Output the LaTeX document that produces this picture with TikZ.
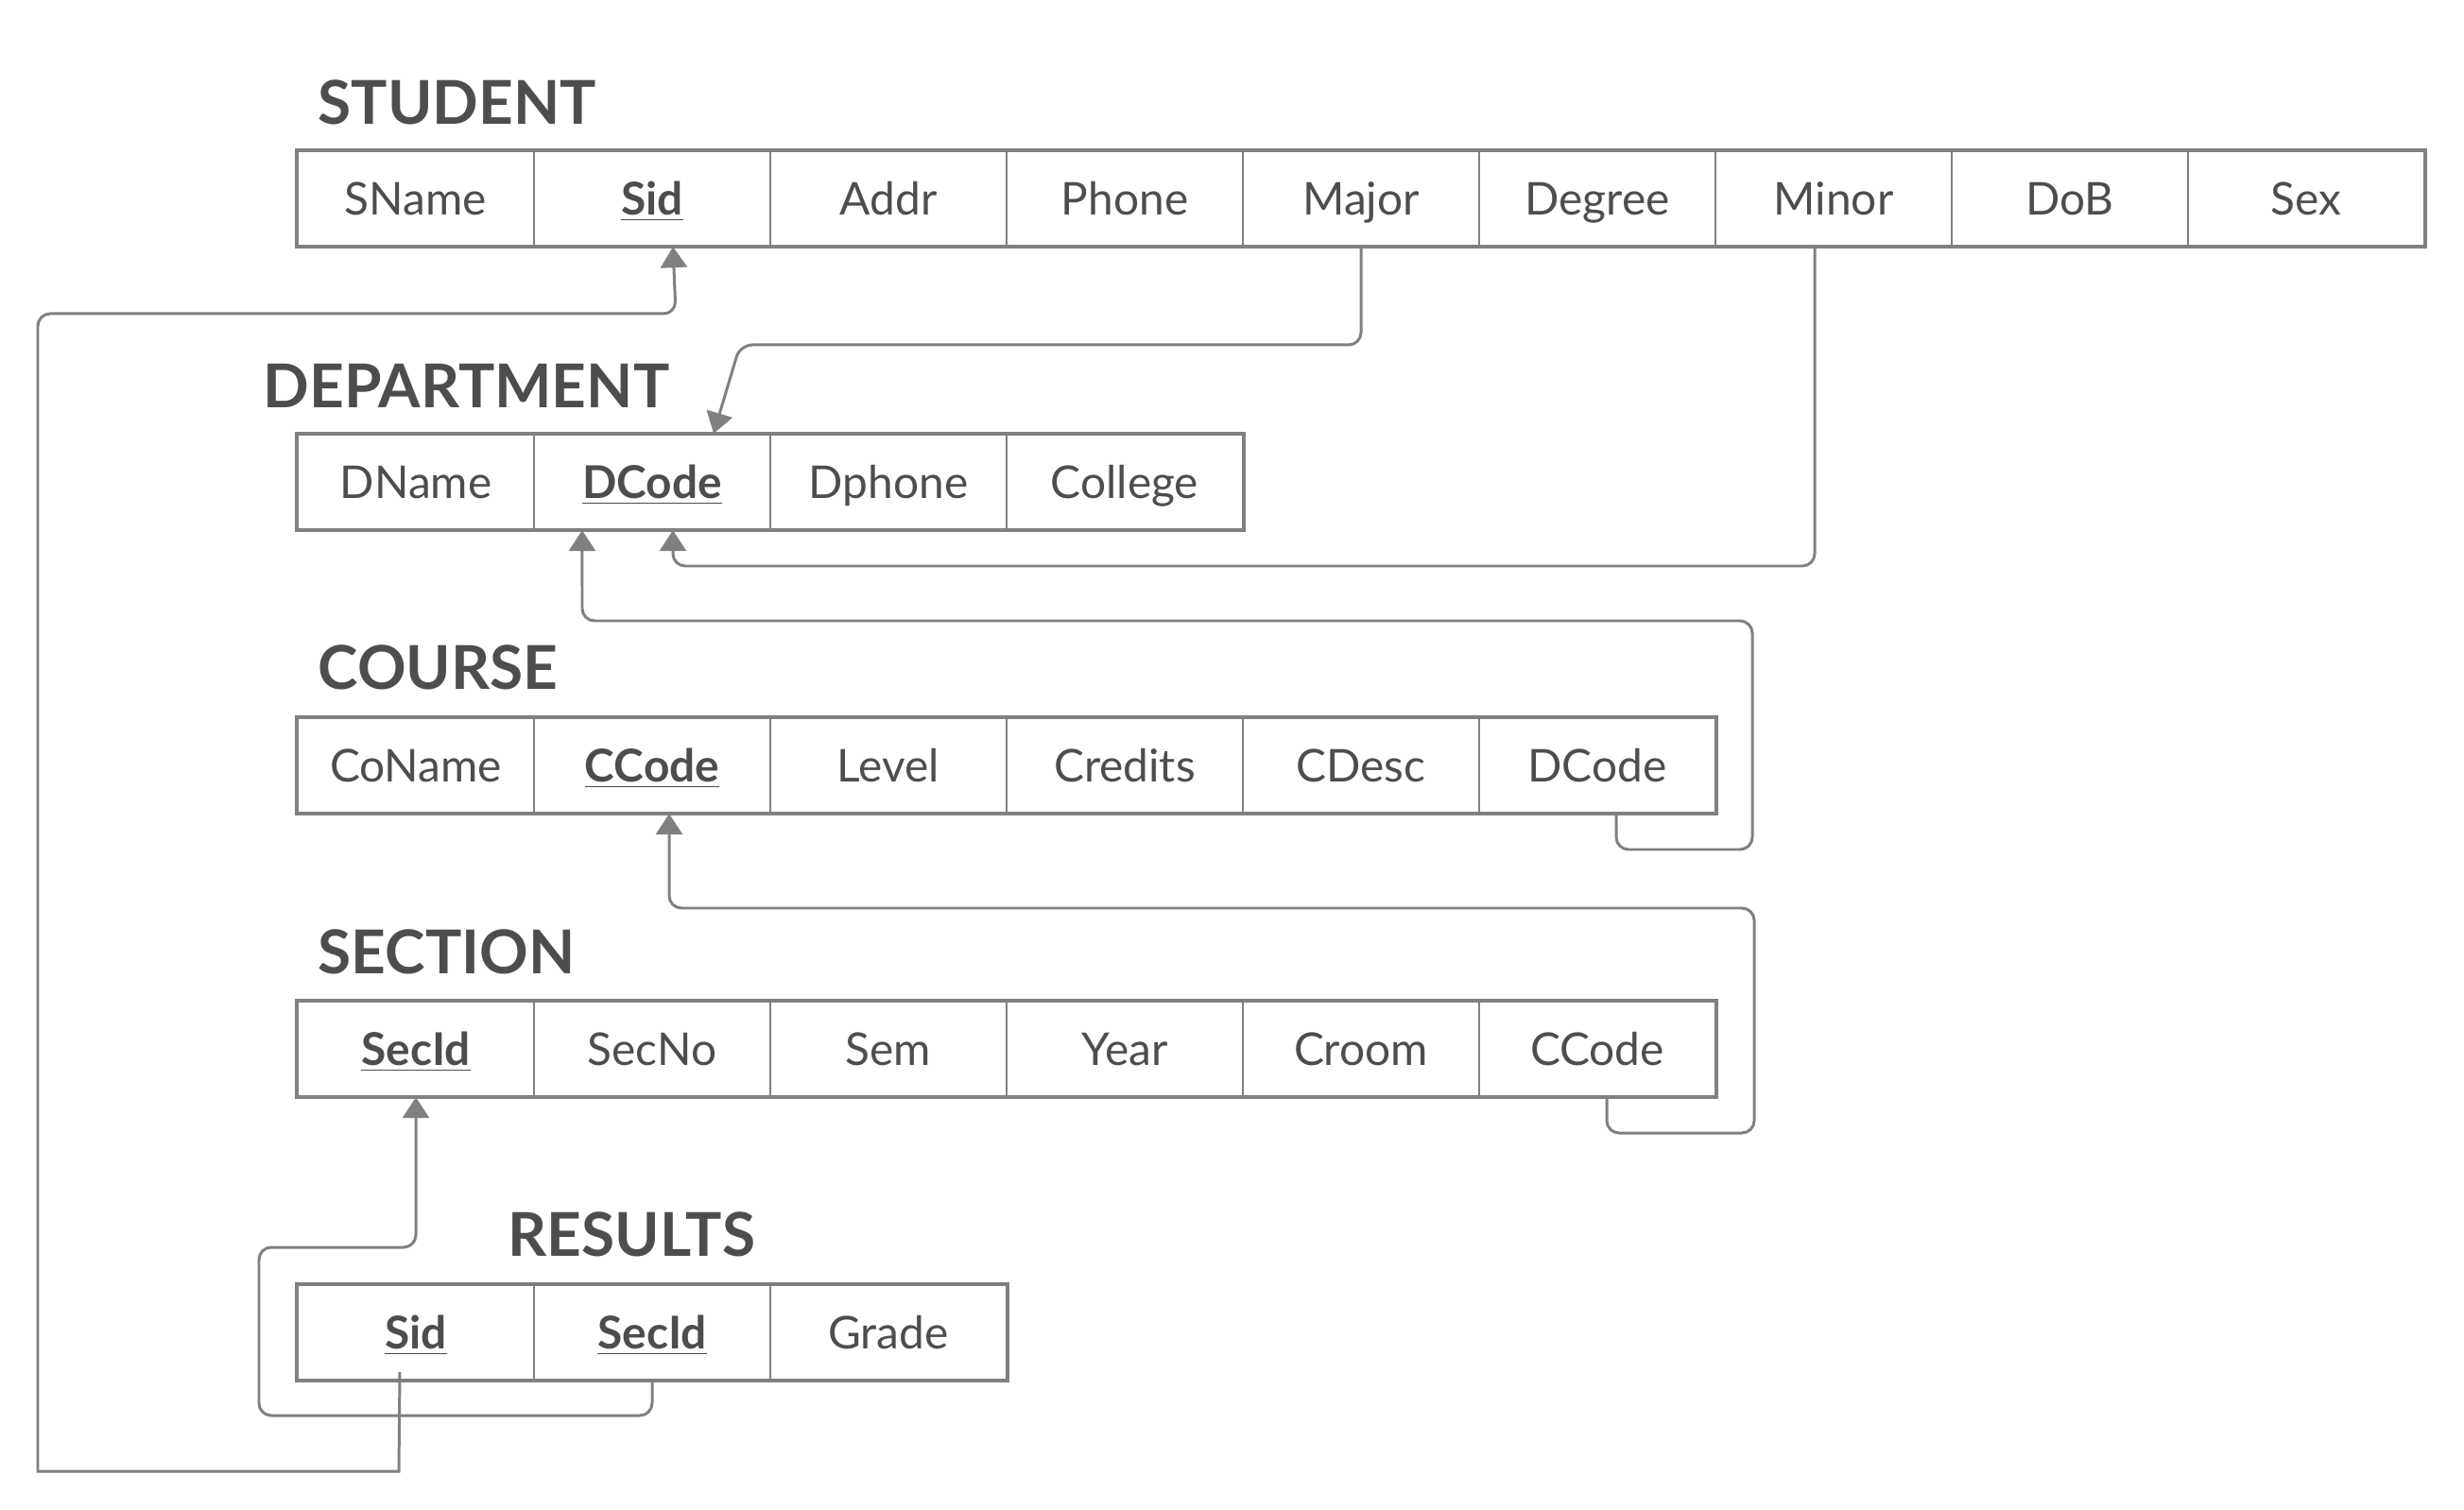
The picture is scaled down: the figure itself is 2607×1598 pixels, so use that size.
\documentclass[tikz,border=0pt]{standalone}
\usepackage{fontspec}
\setmainfont{Lato}
\usetikzlibrary{arrows.meta}

\definecolor{ink}{HTML}{4D4D4D}
\definecolor{wire}{HTML}{808080}

\tikzset{
  attr/.style={draw=wire, line width=0.65pt, minimum width=2.5cm, minimum height=1cm,
    inner sep=0pt, text=ink, font=\fontsize{13.6}{16}\selectfont, text height=9.75pt, text depth=0pt},
  relname/.style={anchor=base west, inner sep=0pt, text=ink, font=\fontsize{18.2}{22}\selectfont\bfseries},
  tblframe/.style={draw=wire, line width=1pt},
  fk/.style={draw=wire, line width=0.85pt, rounded corners=0.13cm, -{Triangle[length=0.22cm,width=0.28cm]}},
}
\newcommand{\pk}[1]{\underline{\textbf{#1}}}

\begin{document}
\begin{tikzpicture}[x=0.01cm, y=-0.01cm]
                    \useasboundingbox (0,0) rectangle (2607,1598);

                    % STUDENT
                    \node[relname] (tstudent) at (336,132) {STUDENT};
                    \node[attr] (sname) at (440,210) {SName};
                    \node[attr] (sid) at (690,210) {\pk{Sid}};
                    \node[attr] (addr) at (940,210) {Addr};
                    \node[attr] (phone) at (1190,210) {Phone};
                    \node[attr] (major) at (1440,210) {Major};
                    \node[attr] (degree) at (1690,210) {Degree};
                    \node[attr] (minor) at (1940,210) {Minor};
                    \node[attr] (dob) at (2190,210) {DoB};
                    \node[attr] (sex) at (2440,210) {Sex};

                    % DEPARTMENT
                    \node[relname] (tdept) at (278,432) {DEPARTMENT};
                    \node[attr] (dname) at (440,510) {DName};
                    \node[attr] (dcode) at (690,510) {\pk{DCode}};
                    \node[attr] (dphone) at (940,510) {Dphone};
                    \node[attr] (college) at (1190,510) {College};

                    % COURSE
                    \node[relname] (tcourse) at (336,730) {COURSE};
                    \node[attr] (coname) at (440,810) {CoName};
                    \node[attr] (ccode) at (690,810) {\pk{CCode}};
                    \node[attr] (level) at (940,810) {Level};
                    \node[attr] (credits) at (1190,810) {Credits};
                    \node[attr] (cdesc) at (1440,810) {CDesc};
                    \node[attr] (cdcode) at (1690,810) {DCode};

                    % SECTION
                    \node[relname] (tsection) at (336,1030) {SECTION};
                    \node[attr] (secid) at (440,1110) {\pk{SecId}};
                    \node[attr] (secno) at (690,1110) {SecNo};
                    \node[attr] (sem) at (940,1110) {Sem};
                    \node[attr] (year) at (1190,1110) {Year};
                    \node[attr] (croom) at (1440,1110) {Croom};
                    \node[attr] (sccode) at (1690,1110) {CCode};

                    % RESULTS
                    \node[relname] (tresults) at (537,1329) {RESULTS};
                    \node[attr] (rsid) at (440,1410) {\pk{Sid}};
                    \node[attr] (rsecid) at (690,1410) {\pk{SecId}};
                    \node[attr] (grade) at (940,1410) {Grade};

                    \draw[tblframe] (sname.north west) rectangle (sex.south east);
                    \draw[tblframe] (dname.north west) rectangle (college.south east);
                    \draw[tblframe] (coname.north west) rectangle (cdcode.south east);
                    \draw[tblframe] (secid.north west) rectangle (sccode.south east);
                    \draw[tblframe] (rsid.north west) rectangle (grade.south east);

                    % foreign keys
                    \draw[fk] (major.south) |- (783,365) [sharp corners] -- ([xshift=0.65cm]dcode.north);
                    \draw[fk] ([xshift=-0.2cm]minor.south) |- (712,599) -- ([xshift=0.22cm]dcode.south);
                    \draw[fk] ([xshift=0.2cm]cdcode.south) |- (1854,899) |- (616,657) -- ([xshift=-0.74cm]dcode.south);
                    \draw[fk] ([xshift=0.1cm]sccode.south) |- (1856,1199) |- (708,961) -- ([xshift=0.18cm]ccode.south);
                    \draw[fk] (rsecid.south) |- (274,1498) |- (440,1320) -- (secid.south);
                    \draw[fk] ([xshift=-0.17cm,yshift=0.09cm]rsid.south) [sharp corners] -- (422,1557) -- (40,1557)
                        [rounded corners=0.13cm] -- (40,332) -- (715,332) [sharp corners] -- ([xshift=0.22cm]sid.south);

                \end{tikzpicture}
\end{document}
